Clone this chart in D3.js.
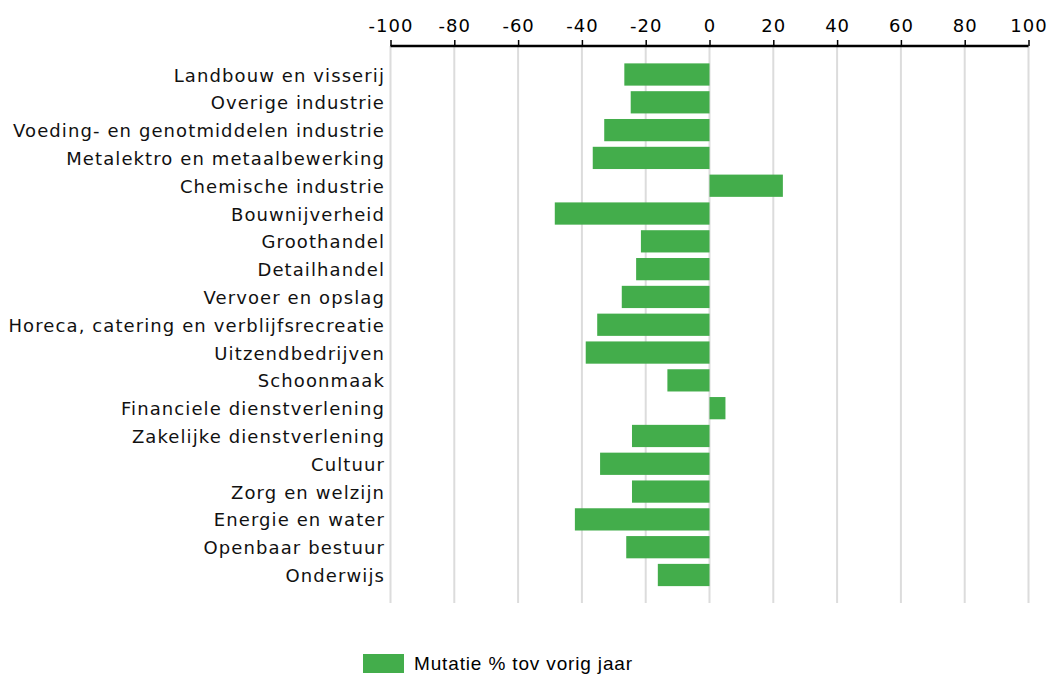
<!DOCTYPE html>
<html>
<head>
<meta charset="utf-8">
<script src="https://cdn.jsdelivr.net/npm/d3@7"></script>
<style>
  html, body { margin: 0; padding: 0; background: #fff; }
  svg { display: block; }
</style>
</head>
<body>
<svg id="chart" width="1054" height="679"></svg>
<script>
// Sectors, top to bottom
const sectors = [
  "Landbouw en visserij",
  "Overige industrie",
  "Voeding- en genotmiddelen industrie",
  "Metalektro en metaalbewerking",
  "Chemische industrie",
  "Bouwnijverheid",
  "Groothandel",
  "Detailhandel",
  "Vervoer en opslag",
  "Horeca, catering en verblijfsrecreatie",
  "Uitzendbedrijven",
  "Schoonmaak",
  "Financiele dienstverlening",
  "Zakelijke dienstverlening",
  "Cultuur",
  "Zorg en welzijn",
  "Energie en water",
  "Openbaar bestuur",
  "Onderwijs"
];

// Change in % compared with the previous year
const mutatie = [
  -26.7, -24.7, -33.0, -36.6, 23.0, -48.5, -21.5, -23.0, -27.5, -35.2,
  -38.8, -13.2, 5.0, -24.3, -34.3, -24.3, -42.2, -26.1, -16.2
];

const xTicks = [-100, -80, -60, -40, -20, 0, 20, 40, 60, 80, 100];
const legendLabel = "Mutatie % tov vorig jaar";

const barColor = "#43ad4b";
const svg = d3.select("#chart");

const x = d3.scaleLinear().domain([-100, 100]).range([390.5, 1028.5]);
const y = d3.scaleBand().domain(sectors).range([60.6, 588.9]).paddingInner(0.2).paddingOuter(0.1);

const axisY = 46;
const gridBottom = 603;

// Vertical grid lines
svg.append("g")
  .selectAll("line")
  .data(xTicks)
  .join("line")
  .attr("x1", d => x(d)).attr("x2", d => x(d))
  .attr("y1", axisY).attr("y2", gridBottom)
  .attr("stroke", "#dcdcdc")
  .attr("stroke-width", 2);

// Bars
svg.append("g")
  .selectAll("rect")
  .data(sectors.map((s, i) => ({ s, v: mutatie[i] })))
  .join("rect")
  .attr("x", d => x(Math.min(0, d.v)))
  .attr("width", d => Math.abs(x(d.v) - x(0)))
  .attr("y", d => y(d.s))
  .attr("height", y.bandwidth())
  .attr("fill", barColor);

// Top axis
const xAxis = d3.axisTop(x).tickValues(xTicks).tickSize(6).tickPadding(6).tickFormat(d => String(d));
const gx = svg.append("g").attr("transform", `translate(0,${axisY})`).call(xAxis);
gx.select(".domain").attr("stroke", "#000").attr("stroke-width", 2.5).attr("d", `M${x(-100)},0H${x(100)}`);
gx.selectAll(".tick line").attr("stroke", "#000").attr("stroke-width", 1.5);
gx.selectAll(".tick text")
  .attr("font-family", "DejaVu Sans, Verdana, sans-serif")
  .attr("font-size", 18)
  .attr("letter-spacing", 1)
  .attr("fill", "#000")
  .attr("y", -14);

// Category labels
svg.append("g")
  .selectAll("text")
  .data(sectors)
  .join("text")
  .attr("x", 385)
  .attr("y", d => y(d) + y.bandwidth() / 2)
  .attr("dy", "0.39em")
  .attr("text-anchor", "end")
  .attr("font-family", "DejaVu Sans, Verdana, sans-serif")
  .attr("font-size", 18)
  .attr("letter-spacing", 1.1)
  .attr("fill", "#111")
  .text(d => d);

// Legend
const lg = svg.append("g").attr("transform", "translate(363,654)");
lg.append("rect").attr("width", 41).attr("height", 19).attr("fill", barColor);
lg.append("text")
  .attr("x", 51).attr("y", 16)
  .attr("font-family", "Liberation Sans, Arial, sans-serif")
  .attr("font-size", 19)
  .attr("letter-spacing", 0.85)
  .attr("fill", "#000")
  .text(legendLabel);
</script>
</body>
</html>
